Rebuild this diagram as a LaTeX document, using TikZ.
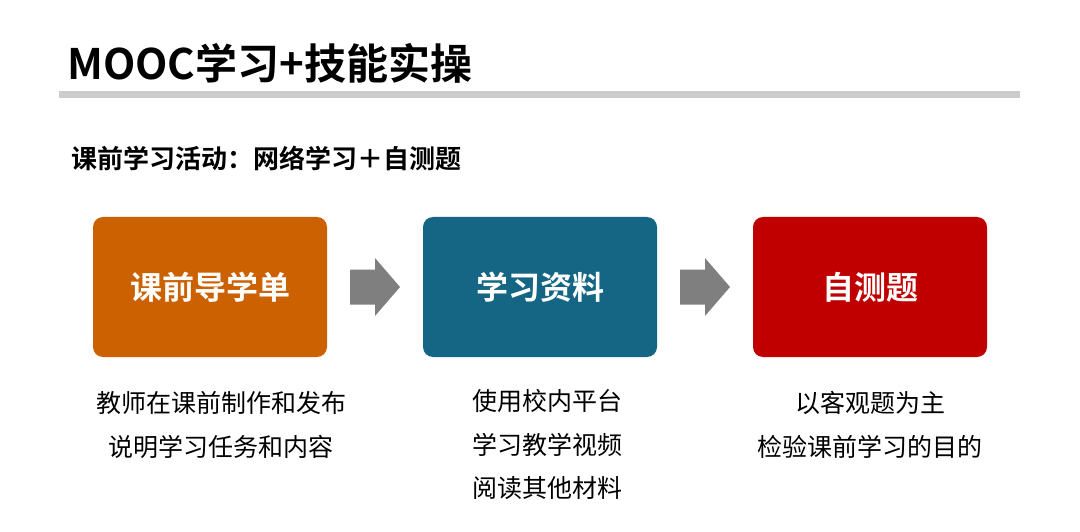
\documentclass[tikz,border=0pt]{standalone}
\usepackage{fontspec}
\setmainfont{Noto Sans CJK SC}
\newfontfamily\cjkb{Noto Sans CJK SC Bold}
\usetikzlibrary{calc}
\definecolor{cOrange}{HTML}{CC6102}
\definecolor{cTeal}{HTML}{156684}
\definecolor{cRed}{HTML}{C00000}
\definecolor{cBar}{HTML}{CCCCCC}
\definecolor{cArrow}{HTML}{7F7F7F}
\tikzset{
  stepbox/.style={rounded corners=10pt, minimum width=234pt, minimum height=140pt, inner sep=0pt, text=white, font=\cjkb\fontsize{32}{36}\selectfont},
  caption/.style={align=center, font=\fontsize{25}{43.5}\selectfont, text=black, anchor=north},
  flowarrow/.style={fill=cArrow, draw=none}
}
\begin{document}
\begin{tikzpicture}[x=1pt,y=-1pt]
\useasboundingbox (0,0) rectangle (1080,532);
\fill[white] (0,0) rectangle (1080,532);
\node[anchor=west, inner sep=0pt, font=\cjkb\fontsize{42}{48}\selectfont] (title) at (67,63) {MOOC学习+技能实操};
\fill[cBar] (59,91) rectangle (1020,98);
\node[anchor=west, inner sep=0pt, font=\cjkb\fontsize{26}{30}\selectfont] (sub) at (71,158) {课前学习活动：网络学习＋自测题};
\node[stepbox, fill=cOrange] (b1) at (210,287) {课前导学单};
\node[stepbox, fill=cTeal] (b2) at (540,287) {学习资料};
\node[stepbox, fill=cRed] (b3) at (870,287) {自测题};
\foreach \a/\b in {b1/b2, b2/b3}{
  \path ($(\a.east)!0.5!(\b.west)$) coordinate (m);
  \fill[flowarrow] ($(m)+(-25,-17.5)$) -- ($(m)+(0,-17.5)$) -- ($(m)+(0,-29)$) -- ($(m)+(25,0)$) -- ($(m)+(0,29)$) -- ($(m)+(0,17.5)$) -- ($(m)+(-25,17.5)$) -- cycle;
}
\node[caption] (c1) at (221,388) {教师在课前制作和发布\\说明学习任务和内容};
\node[caption] (c2) at (547,386) {使用校内平台\\学习教学视频\\阅读其他材料};
\node[caption] (c3) at (870,388) {以客观题为主\\检验课前学习的目的};
\end{tikzpicture}
\end{document}
